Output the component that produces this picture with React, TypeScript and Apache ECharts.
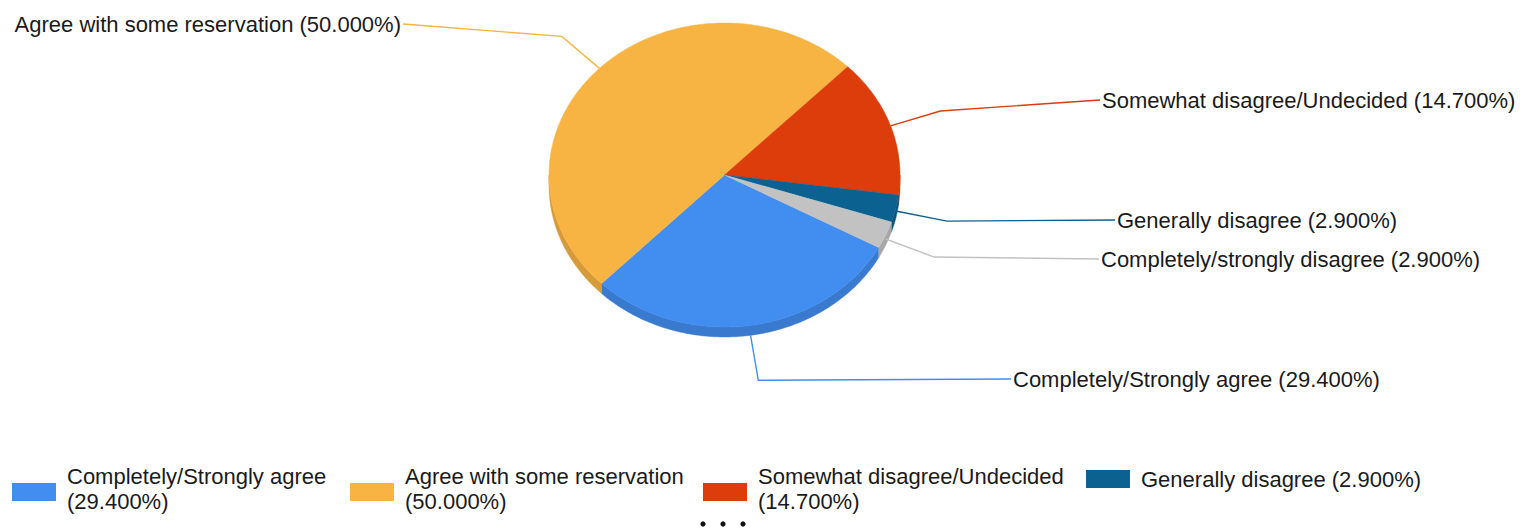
import React, { useEffect, useRef } from "react";
import * as echarts from "echarts";

// ---- data ----
const categories = [
  "Completely/Strongly agree",
  "Agree with some reservation",
  "Somewhat disagree/Undecided",
  "Generally disagree",
  "Completely/strongly disagree",
];
const values = [29.4, 50.0, 14.7, 2.9, 2.9];
const colors = ["#428ef0", "#f8b443", "#dc3d0a", "#0b6291", "#c2c2c2"];

// ---- layout (positions / styles only) ----
const PIE = { cx: 724.5, cy: 175, rx: 175.5, ry: 152, depth: 10, startAngle: -28.5, elbow: 1.3 };
const labelAnchors: [number, number, string][] = [
  [1011, 379, "left"],
  [403, 24, "right"],
  [1100, 100, "left"],
  [1115, 220, "left"],
  [1099, 259, "left"],
];
const legendX = [12, 350, 703, 1086];
const legendWrap = [true, true, true, false];
const FONT = "22px 'Liberation Sans', Arial, sans-serif";
const TEXT_COLOR = "#1a1a1a";

function shade(hex: string, k: number) {
  const n = parseInt(hex.slice(1), 16);
  const r = Math.round(((n >> 16) & 255) * k);
  const g = Math.round(((n >> 8) & 255) * k);
  const b = Math.round((n & 255) * k);
  return `rgb(${r},${g},${b})`;
}

const pct = (v: number) => `${v.toFixed(3)}%`;

function pt(deg: number, k = 1, dy = 0): number[] {
  const a = (deg * Math.PI) / 180;
  return [PIE.cx + k * PIE.rx * Math.cos(a), PIE.cy - k * PIE.ry * Math.sin(a) + dy];
}

function arc(from: number, to: number, dy = 0): number[][] {
  const n = Math.max(2, Math.ceil(Math.abs(to - from)) + 1);
  const out: number[][] = [];
  for (let i = 0; i < n; i++) out.push(pt(from + ((to - from) * i) / (n - 1), 1, dy));
  return out;
}

export default function App() {
  const ref = useRef<HTMLDivElement>(null);

  useEffect(() => {
    if (!ref.current) return;
    const chart = echarts.init(ref.current, null, { renderer: "svg" });
    const total = values.reduce((a, b) => a + b, 0);
    const cum: number[] = [];
    values.reduce((acc, v, i) => {
      cum[i] = acc;
      return acc + v;
    }, 0);

    const data = values.map((v, i) => ({ name: categories[i], value: [v, cum[i], total] }));

    const renderItem = (params: any, api: any) => {
      const i = params.dataIndex;
      const v = api.value(0);
      const start = api.value(1);
      const tot = api.value(2);
      const hi = PIE.startAngle - (start / tot) * 360;
      const lo = hi - (v / tot) * 360;
      const color = colors[i];
      const children: any[] = [];

      // side walls (visible bottom half)
      const bottoms = [
        [-180, 0],
        [-540, -360],
        [180, 360],
      ];
      bottoms.forEach(([b0, b1]) => {
        const a = Math.max(lo, b0);
        const b = Math.min(hi, b1);
        if (b - a > 0.01) {
          const top = arc(a, b, 0);
          const bot = arc(b, a, PIE.depth);
          children.push({
            type: "polygon",
            z2: 1,
            shape: { points: top.concat(bot) },
            style: { fill: shade(color, 0.86), stroke: shade(color, 0.86), lineWidth: 0.5 },
          });
        }
      });

      // top face
      const face = [[PIE.cx, PIE.cy]].concat(arc(hi, lo, 0));
      children.push({
        type: "polygon",
        z2: 2,
        shape: { points: face },
        style: { fill: color, stroke: color, lineWidth: 0.5 },
      });

      // leader line
      const mid = (hi + lo) / 2;
      const s = Math.sin((mid * Math.PI) / 180);
      const dd = PIE.depth * Math.max(0, -s);
      const p1 = pt(mid, 1, dd);
      const p2 = pt(mid, PIE.elbow, dd);
      const [ax, ay, align] = labelAnchors[i];
      children.push({
        type: "polyline",
        z2: 3,
        shape: { points: [p1, p2, [ax, ay]] },
        style: { stroke: color, lineWidth: 1.4, fill: null },
      });
      children.push({
        type: "text",
        z2: 4,
        style: {
          text: `${categories[i]} (${pct(v)})`,
          x: align === "left" ? ax + 2 : ax - 2,
          y: ay,
          align,
          verticalAlign: "middle",
          font: FONT,
          fill: TEXT_COLOR,
        },
      });
      return { type: "group", children };
    };

    // legend (first 4 items + overflow dots)
    const graphic: any[] = [];
    const Y0 = 479;
    for (let i = 0; i < legendX.length; i++) {
      const wrap = legendWrap[i];
      const lines = wrap ? 2 : 1;
      const swatchCenter = Y0 + (lines - 1) * 13;
      graphic.push({
        type: "rect",
        left: legendX[i],
        top: swatchCenter - 9,
        shape: { width: 44, height: 18 },
        style: { fill: colors[i] },
      });
      graphic.push({
        type: "text",
        x: legendX[i] + 55,
        y: Y0 + (lines - 1) * 10,
        style: {
          text: wrap ? `${categories[i]}\n(${pct(values[i])})` : `${categories[i]} (${pct(values[i])})`,
          font: FONT,
          lineHeight: 25,
          fill: TEXT_COLOR,
          verticalAlign: "middle",
          align: "left",
        },
      });
    }
    [703, 723, 743].forEach((x) => {
      graphic.push({ type: "circle", shape: { cx: x, cy: 524, r: 2.6 }, style: { fill: "#111" } });
    });

    chart.setOption({
      animation: false,
      backgroundColor: "#ffffff",
      series: [
        {
          type: "custom",
          coordinateSystem: "none",
          renderItem,
          data,
          silent: true,
        },
      ],
      graphic,
    });

    return () => chart.dispose();
  }, []);

  return (
    <div
      ref={ref}
      style={{ position: "absolute", left: 0, top: 0, width: 1523, height: 531 }}
    />
  );
}
